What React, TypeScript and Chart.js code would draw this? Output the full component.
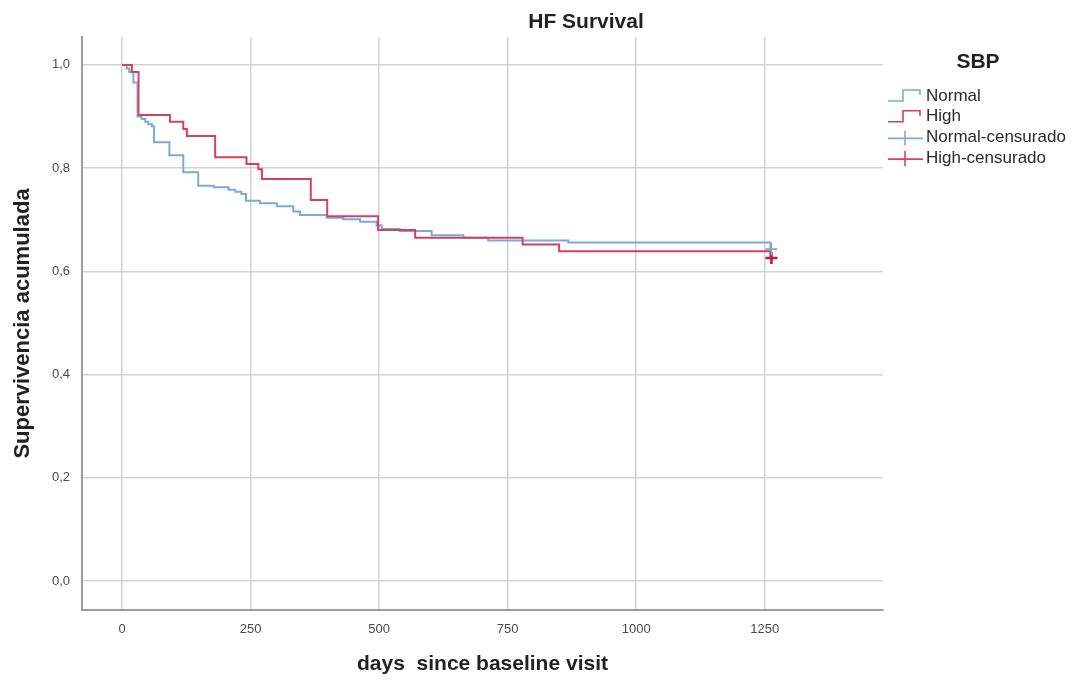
import React, { useEffect, useRef } from 'react';
import { Chart, registerables } from 'chart.js';

Chart.register(...registerables);

// ---- Data ----
const chartTitle = 'HF Survival';
const xTitle = 'days  since baseline visit';
const yTitle = 'Supervivencia acumulada';
const legendTitle = 'SBP';
const legendLabels = ['Normal', 'High', 'Normal-censurado', 'High-censurado'];

const xTickValues = [0, 250, 500, 750, 1000, 1250];
const yTickValues = [0, 0.2, 0.4, 0.6, 0.8, 1.0];

const normalTimes = [0, 9, 14, 22, 30, 38, 45, 51, 58, 62, 92, 119, 148, 178, 207, 220, 232, 241, 268, 301, 333, 346, 398, 430, 463, 495, 505, 540, 602, 664, 712, 868, 1261];
const normalSurvival = [1.0, 0.993, 0.986, 0.966, 0.9, 0.895, 0.89, 0.885, 0.881, 0.85, 0.825, 0.792, 0.766, 0.763, 0.758, 0.754, 0.75, 0.737, 0.732, 0.726, 0.716, 0.709, 0.704, 0.701, 0.696, 0.689, 0.682, 0.678, 0.67, 0.665, 0.66, 0.656, 0.643];

const highTimes = [0, 19, 32, 93, 119, 126, 181, 242, 265, 272, 367, 399, 498, 570, 779, 850, 1261];
const highSurvival = [1.0, 0.986, 0.903, 0.89, 0.876, 0.862, 0.821, 0.808, 0.798, 0.779, 0.738, 0.707, 0.68, 0.665, 0.652, 0.639, 0.626];

const normalCensorTimes = [1263];
const normalCensorSurvival = [0.643];
const highCensorTimes = [1263];
const highCensorSurvival = [0.626];

// ---- Styles ----
const FONT = '"Liberation Sans", Arial, Helvetica, sans-serif';
const BLUE = '#7aa9df';
const RED = '#d6405f';
const RED_CROSS = '#c81a3a';
const GRID = '#d2d2d2';
const AXIS = '#9c9c9c';

const titlePlugin = {
  id: 'kmTitle',
  afterDraw(chart: any) {
    const ctx = chart.ctx;
    ctx.save();
    ctx.fillStyle = '#222';
    ctx.font = `bold 21px ${FONT}`;
    ctx.textAlign = 'center';
    ctx.textBaseline = 'middle';
    ctx.fillText(chartTitle, 586, 22);
    ctx.restore();
  },
};

const legendPlugin = {
  id: 'kmLegend',
  afterDraw(chart: any) {
    const ctx = chart.ctx;
    ctx.save();
    ctx.fillStyle = '#222';
    ctx.font = `bold 21px ${FONT}`;
    ctx.textAlign = 'center';
    ctx.textBaseline = 'middle';
    ctx.fillText(legendTitle, 978, 62);

    const colors = [BLUE, RED, BLUE, RED];
    const x0 = 888;
    const y0 = 96;
    const step = 20.7;
    ctx.font = `17px ${FONT}`;
    ctx.textAlign = 'left';
    legendLabels.forEach((label, i) => {
      const cy = y0 + i * step;
      ctx.strokeStyle = colors[i];
      ctx.lineWidth = 1.6;
      ctx.beginPath();
      if (i < 2) {
        ctx.moveTo(x0, cy + 5);
        ctx.lineTo(x0 + 15, cy + 5);
        ctx.lineTo(x0 + 15, cy - 6);
        ctx.lineTo(x0 + 32, cy - 6);
        ctx.lineTo(x0 + 32, cy - 1);
      } else {
        ctx.moveTo(x0, cy + 1);
        ctx.lineTo(x0 + 35, cy + 1);
        ctx.moveTo(x0 + 17, cy - 7);
        ctx.lineTo(x0 + 17, cy + 8);
      }
      ctx.stroke();
      ctx.fillStyle = '#2a2a2a';
      ctx.fillText(label, 926, cy);
    });
    ctx.restore();
  },
};

export default function App() {
  const canvasRef = useRef<HTMLCanvasElement | null>(null);

  useEffect(() => {
    const canvas = canvasRef.current;
    if (!canvas) return;
    const chart = new Chart(canvas, {
      type: 'scatter',
      data: {
        datasets: [
          {
            label: legendLabels[2],
            data: normalCensorTimes.map((t, i) => ({ x: t, y: normalCensorSurvival[i] })),
            showLine: false,
            pointStyle: 'cross',
            pointRadius: 6,
            pointBorderWidth: 1.6,
            borderColor: BLUE,
            backgroundColor: BLUE,
            order: 0,
          },
          {
            label: legendLabels[3],
            data: highCensorTimes.map((t, i) => ({ x: t, y: highCensorSurvival[i] })),
            showLine: false,
            pointStyle: 'cross',
            pointRadius: 6,
            pointBorderWidth: 2.6,
            borderColor: RED_CROSS,
            backgroundColor: RED_CROSS,
            order: 0,
          },
          {
            label: legendLabels[1],
            data: highTimes.map((t, i) => ({ x: t, y: highSurvival[i] })),
            showLine: true,
            stepped: 'before',
            borderColor: RED,
            backgroundColor: RED,
            borderWidth: 2,
            pointRadius: 0,
            fill: false,
            order: 1,
          },
          {
            label: legendLabels[0],
            data: normalTimes.map((t, i) => ({ x: t, y: normalSurvival[i] })),
            showLine: true,
            stepped: 'before',
            borderColor: BLUE,
            backgroundColor: BLUE,
            borderWidth: 2,
            pointRadius: 0,
            fill: false,
            order: 2,
          },
        ],
      },
      options: {
        animation: false,
        responsive: true,
        maintainAspectRatio: false,
        layout: { padding: { top: 37, right: 192, left: 0, bottom: 0 } },
        plugins: {
          legend: { display: false },
          title: { display: false },
          tooltip: { enabled: false },
        },
        scales: {
          x: {
            type: 'linear',
            min: -78,
            max: 1480,
            afterBuildTicks: (s: any) => {
              s.ticks = xTickValues.map((v) => ({ value: v }));
            },
            afterFit: (s: any) => {
              s.height = 69;
            },
            grid: { color: GRID, lineWidth: 1.5, drawTicks: false },
            border: { color: AXIS, width: 2 },
            ticks: {
              padding: 12,
              color: '#4a4a4a',
              font: { size: 13, family: FONT },
              maxRotation: 0,
              autoSkip: false,
              callback: (v: any) => String(v),
            },
            title: {
              display: true,
              text: xTitle,
              color: '#222',
              font: { size: 21, weight: 'bold', family: FONT },
              padding: { top: 0, bottom: 2 },
            },
          },
          y: {
            type: 'linear',
            min: -0.056,
            max: 1.054,
            afterBuildTicks: (s: any) => {
              s.ticks = yTickValues.map((v) => ({ value: v }));
            },
            afterFit: (s: any) => {
              s.width = 82;
            },
            grid: { color: GRID, lineWidth: 1.5, drawTicks: false },
            border: { color: AXIS, width: 2 },
            ticks: {
              padding: 12,
              color: '#4a4a4a',
              font: { size: 13, family: FONT },
              callback: (v: any) => Number(v).toFixed(1).replace('.', ','),
            },
            title: {
              display: true,
              text: yTitle,
              color: '#222',
              font: { size: 22, weight: 'bold', family: FONT },
              padding: { top: 10, bottom: 0 },
            },
          },
        },
      },
      plugins: [titlePlugin, legendPlugin],
    });
    return () => chart.destroy();
  }, []);

  return (
    <div style={{ position: 'fixed', left: 0, top: 0, width: '1075px', height: '679px', background: '#fff' }}>
      <canvas ref={canvasRef} style={{ display: 'block' }} />
    </div>
  );
}
